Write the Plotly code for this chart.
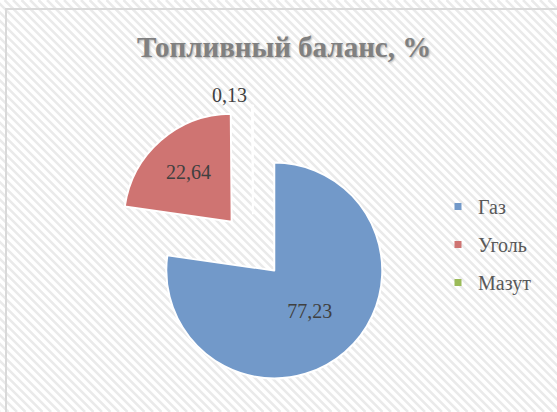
import plotly.graph_objects as go

# данные диаграммы
labels = ["Газ", "Уголь", "Мазут"]
values = [77.23, 22.64, 0.13]
colors = ["#7299c9", "#cf7472", "#9bbb59"]
text_pos = ["inside", "inside", "outside"]

W, H = 557, 412
SERIF = "Times New Roman, Liberation Serif, DejaVu Serif, serif"


def px(x, y):
    # пиксели -> координаты paper
    return x / W, 1 - y / H


fig = go.Figure()

fig.add_trace(go.Pie(
    labels=labels,
    values=values,
    sort=False,
    direction="clockwise",
    rotation=0,
    pull=[0.3, 0.3, 0.3],
    marker=dict(colors=colors, line=dict(color="white", width=2)),
    texttemplate="%{value:.2f}",
    textposition=text_pos,
    insidetextorientation="horizontal",
    textfont=dict(family=SERIF, size=20, color="#404040"),
    domain=dict(x=[0.2022, 0.7063], y=[0.0621, 0.7437]),
    showlegend=False,
    hoverinfo="label+value",
))

# легенда отдельными пустыми трейсами, чтобы задать шаг между строками
for lab, col in zip(labels, colors):
    fig.add_trace(go.Scatter(
        x=[None], y=[None], mode="markers", name=lab, legendgroup=lab,
        marker=dict(symbol="square", size=7, color=col),
    ))

# штриховка фона
step = 8.5
segs = []
k = -H
while k < W + 10:
    a, b = px(k, 0)
    c, d = px(k + H, H)
    segs.append(f"M{a:.4f},{b:.4f} L{c:.4f},{d:.4f}")
    k += step

fig.add_shape(type="path", path=" ".join(segs), xref="paper", yref="paper",
              line=dict(color="#eaeaea", width=2.5), layer="below")
fig.add_shape(type="rect", xref="paper", yref="paper",
              x0=6 / W, y0=-0.05, x1=1.05, y1=1 - 9 / H,
              line=dict(color="#d9d9d9", width=2), layer="below")

fig.update_layout(
    width=W, height=H,
    margin=dict(l=0, r=0, t=0, b=0, autoexpand=False),
    paper_bgcolor="white",
    plot_bgcolor="rgba(0,0,0,0)",
    separators=", ",
    xaxis=dict(visible=False),
    yaxis=dict(visible=False),
    title=dict(
        text="<b>Топливный баланс, %</b>",
        x=0.51, xanchor="center", y=1 - 47 / H, yanchor="middle", yref="container",
        font=dict(family=SERIF, size=29, color="#808080",
                  shadow="1px 1px 2px #b0b0b0"),
    ),
    legend=dict(
        x=438 / W, xanchor="left", y=1 - 187 / H, yanchor="top",
        traceorder="grouped", tracegroupgap=9,
        bgcolor="rgba(0,0,0,0)",
        font=dict(family=SERIF, size=20, color="#595959"),
    ),
)

# у страницы по умолчанию отступ 8px - убираем
fig.write_html("out.html", config={"displayModeBar": False},
               post_script="document.body.style.margin='0';")
